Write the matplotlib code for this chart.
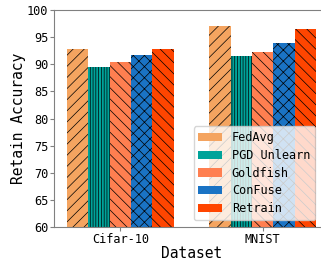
"""Retain accuracy per dataset for the unlearning methods."""

import numpy as np
import matplotlib
matplotlib.use('Agg')
import matplotlib.pyplot as plt
from matplotlib.patches import Patch

datasets = ['Cifar-10', 'MNIST']
methods = ['FedAvg', 'PGD Unlearn', 'Goldfish', 'ConFuse', 'Retrain']
fedavg = [92.9, 97.0]
pgd_unlearn = [89.5, 91.5]
goldfish = [90.5, 92.3]
confuse = [91.8, 93.9]
retrain = [92.8, 96.5]

colors = ['#F4A460', '#00A39A', '#FF7F50', '#1A73C4', '#FF4500']
hatches = ['///', '||||||', '\\\\\\', 'xxx', '\\\\\\']

plt.rcParams['font.family'] = 'DejaVu Sans Mono'
plt.rcParams['hatch.linewidth'] = 0.5

dpi = 100
fig = plt.figure(figsize=(321 / dpi, 263 / dpi), dpi=dpi)
ax = fig.add_axes([0.168, 0.136, 0.857, 0.826])

x = np.arange(len(datasets))
width = 0.15
series = [fedavg, pgd_unlearn, goldfish, confuse, retrain]
for i, vals in enumerate(series):
  ax.bar(x + (i - 2) * width, vals, width, color=colors[i],
         hatch=hatches[i], linewidth=0)

ax.set_ylim(60, 100)
ax.set_xlim(-0.466, 1.466)
ax.set_xticks(x)
ax.set_xticklabels(datasets)
ax.set_yticks(range(60, 101, 5))
ax.tick_params(labelsize=8.6, color='#808080', length=3, pad=1)
ax.set_xlabel('Dataset', fontsize=10.5, labelpad=0)
ax.set_ylabel('Retain Accuracy', fontsize=10.5, labelpad=1)
for s in ax.spines.values():
  s.set_color('#808080')

handles = [Patch(facecolor=c, label=m) for c, m in zip(colors, methods)]
ax.legend(handles=handles, loc='lower right', fontsize=8.6, labelspacing=0.4,
          bbox_to_anchor=(315 / 321, 43 / 263),
          bbox_transform=fig.transFigure, borderaxespad=0)

fig.savefig('out.png', dpi=dpi)
